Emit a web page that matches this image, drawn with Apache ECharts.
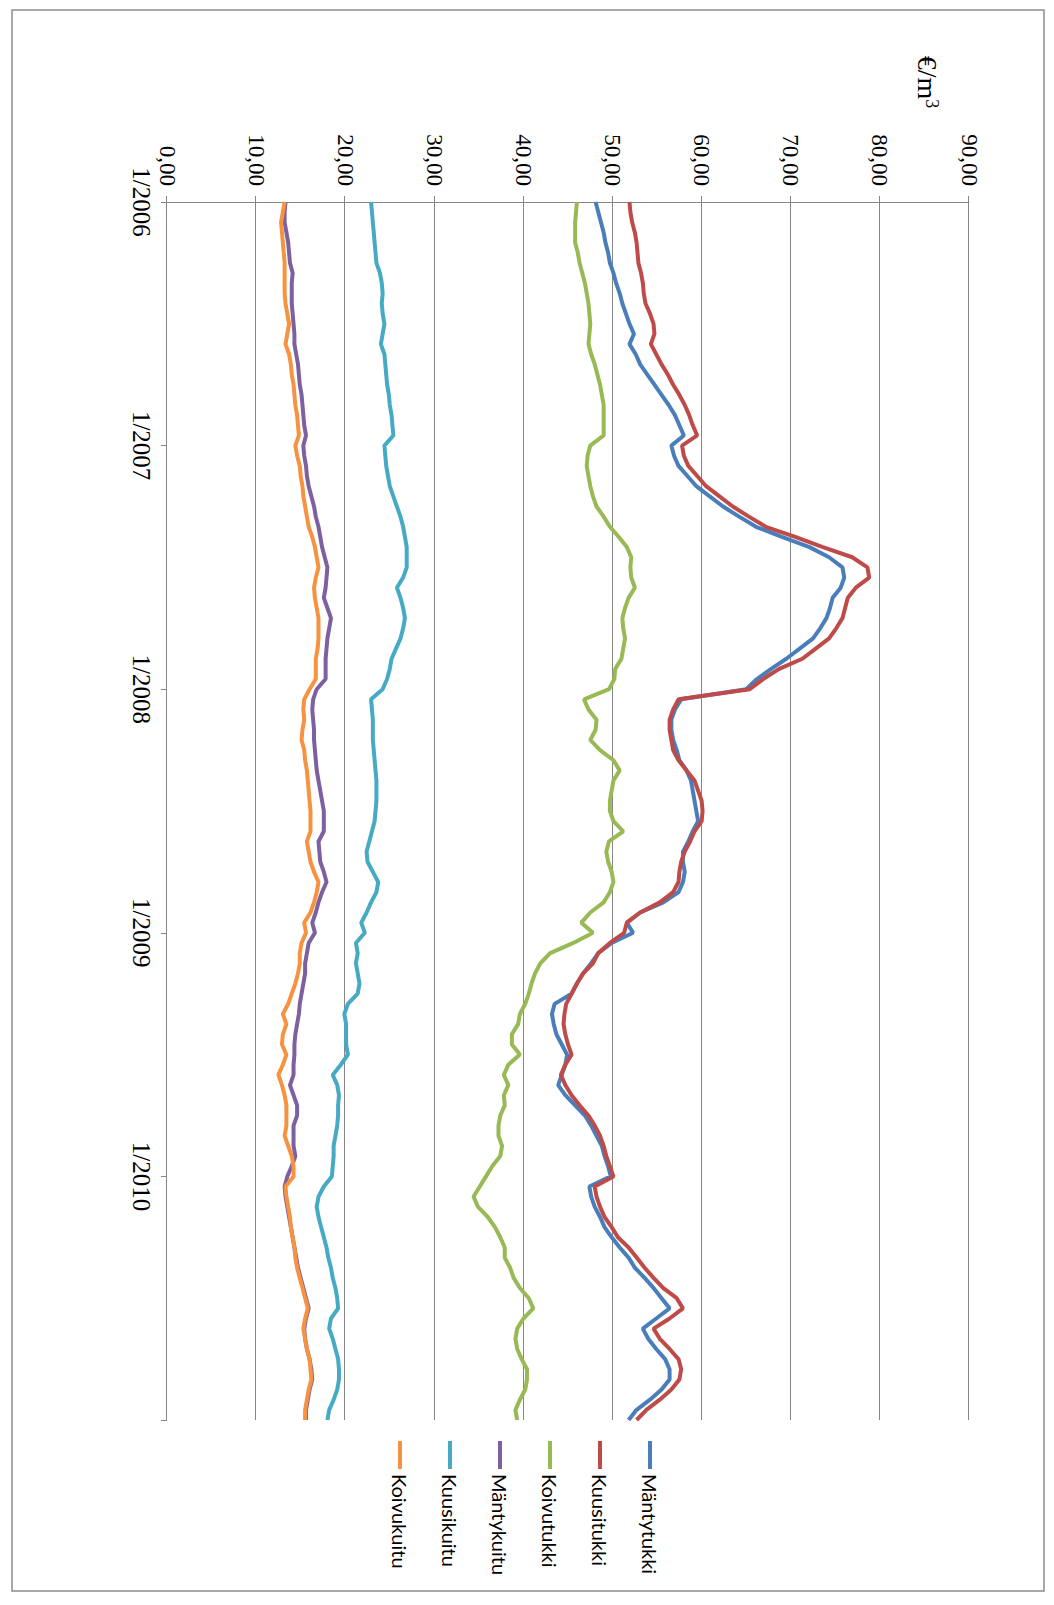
<!DOCTYPE html>
<html><head><meta charset="utf-8">
<script src="https://cdn.jsdelivr.net/npm/echarts/dist/echarts.min.js"></script>
<style>
html,body{margin:0;padding:0;background:#fff;width:1054px;height:1605px;overflow:hidden;}
#chart{position:absolute;left:0;top:0;width:1605px;height:1054px;transform-origin:0 0;transform:translate(1054px,0) rotate(90deg);}
</style></head><body><div id="chart"></div>
<script>
// Semi-monthly sample dates, 1/2006 .. 1/2011
const categories = [];
for (let y = 2006; y <= 2010; y++) {
  for (let m = 1; m <= 12; m++) {
    const mm = (m < 10 ? '0' : '') + m;
    categories.push(y + '-' + mm + '-01', y + '-' + mm + '-15');
  }
}
categories.push('2011-01-01');

const yearTicks = ['1/2006', '1/2007', '1/2008', '1/2009', '1/2010'];
const seriesNames = ['Mäntytukki', 'Kuusitukki', 'Koivutukki', 'Mäntykuitu', 'Kuusikuitu', 'Koivukuitu'];

const mantytukki = [
  48.1,48.4,48.7,49.0,49.2,49.5,49.7,50.1,50.4,50.8,51.1,51.5,51.9,52.4,51.9,52.6,53.1,53.9,54.7,55.5,56.3,57.0,57.5,58.0,
  56.6,56.9,57.4,58.4,59.4,60.9,62.4,64.2,66.1,69.0,72.1,74.3,75.8,76.0,75.6,74.7,74.4,74.0,73.3,72.5,71.0,69.5,67.8,66.2,
  65.0,57.7,57.0,56.6,56.6,56.8,57.2,57.5,58.3,58.8,59.0,59.2,59.4,59.6,59.0,58.5,57.9,57.9,58.1,57.9,57.4,55.7,53.1,51.6,
  52.3,49.9,48.4,47.6,46.7,46.0,45.4,43.5,43.2,43.4,43.7,44.3,44.9,44.7,44.3,43.9,44.7,45.8,46.9,47.6,48.2,48.8,49.1,49.5,
  49.8,47.4,47.6,48.0,48.6,49.1,49.9,50.8,51.8,52.5,53.6,54.6,55.5,56.4,54.9,53.4,54.0,54.9,55.9,56.4,56.4,55.5,54.2,52.7,51.8
];
const kuusitukki = [
  51.9,52.0,52.2,52.5,52.7,52.8,52.9,53.2,53.4,53.5,53.7,54.2,54.6,54.7,54.3,54.9,55.5,56.2,56.8,57.5,58.1,58.6,59.0,59.5,
  57.8,58.0,58.5,59.5,60.5,62.0,63.5,65.3,67.2,70.5,73.6,76.9,78.6,78.8,77.3,76.4,76.1,75.8,75.1,74.3,72.8,71.3,68.7,66.9,
  65.4,57.4,56.8,56.4,56.4,56.6,56.8,57.4,58.3,59.2,59.6,60.0,60.1,60.0,59.2,58.7,58.1,57.7,57.5,57.4,56.8,55.3,53.1,51.6,
  51.3,49.7,48.4,47.8,46.7,46.0,45.4,44.8,44.6,44.5,44.7,45.0,45.4,44.7,44.2,44.7,45.4,46.3,47.3,48.0,48.6,49.0,49.3,49.7,
  50.1,48.0,48.2,48.6,49.1,49.9,50.6,51.8,52.7,53.6,54.6,55.7,57.2,57.9,56.4,54.6,55.3,56.4,57.4,57.7,57.5,56.6,55.3,53.8,52.7
];
const koivutukki = [
  46.0,45.9,45.8,45.8,45.8,46.1,46.3,46.6,46.9,47.1,47.3,47.4,47.5,47.4,47.3,47.6,48.0,48.3,48.6,48.8,49.0,49.0,49.0,49.0,
  47.5,47.2,47.1,47.3,47.5,47.8,48.2,49.0,49.7,50.7,51.6,52.1,52.0,52.1,52.5,51.8,51.4,51.1,51.2,51.4,51.2,51.0,50.3,50.2,
  49.6,46.8,47.3,48.2,48.1,47.5,48.6,50.1,50.8,50.1,49.9,49.7,49.7,50.1,51.2,49.6,49.3,49.5,49.9,50.1,49.7,49.0,47.5,46.5,
  47.8,45.6,43.0,41.9,41.3,40.9,40.6,40.2,39.6,39.4,38.7,38.7,39.6,38.3,37.8,38.3,37.8,37.9,37.4,37.2,37.2,37.6,37.4,36.5,
  35.8,35.1,34.4,34.9,36.0,36.8,37.4,37.9,37.9,38.5,38.9,39.6,40.6,41.1,40.0,39.3,39.1,39.3,39.8,40.4,40.4,40.2,39.6,39.1,39.3
];
const mantykuitu = [
  13.3,13.2,13.2,13.4,13.6,13.7,13.8,14.1,14.0,14.0,14.0,14.1,14.2,14.3,14.3,14.5,14.7,14.8,14.9,15.1,15.2,15.3,15.4,15.6,
  15.3,15.4,15.6,15.7,15.9,16.2,16.5,16.7,17.0,17.2,17.4,17.7,18.0,17.9,17.8,17.6,18.0,18.4,18.2,18.0,17.9,17.8,17.8,17.8,
  16.8,16.4,16.3,16.4,16.5,16.5,16.6,16.7,16.8,17.0,17.2,17.4,17.6,17.6,17.6,17.0,17.1,17.2,17.6,17.9,17.4,17.0,16.7,16.3,
  16.6,15.9,15.7,15.5,15.5,15.3,15.1,14.9,14.8,14.6,14.4,14.3,14.3,14.2,14.2,13.8,14.2,14.6,14.6,14.2,14.2,14.2,14.4,14.0,
  13.5,13.2,13.3,13.5,13.7,13.9,14.1,14.3,14.5,14.7,15.0,15.3,15.6,15.9,15.6,15.4,15.5,15.7,16.0,16.2,16.3,16.0,15.8,15.6,15.6
];
const kuusikuitu = [
  22.9,23.0,23.1,23.2,23.3,23.4,23.5,23.9,24.1,24.2,24.1,24.2,24.4,24.2,24.0,24.4,24.5,24.6,24.7,24.9,25.0,25.2,25.3,25.4,
  24.4,24.5,24.6,24.8,25.0,25.4,25.8,26.2,26.5,26.7,26.9,26.9,26.9,26.5,25.8,26.2,26.5,26.7,26.5,26.2,25.7,25.2,25.0,24.7,
  24.2,22.9,23.0,23.1,23.1,23.1,23.2,23.3,23.4,23.5,23.5,23.5,23.4,23.3,23.0,22.7,22.4,22.5,23.1,23.7,23.5,22.9,22.4,21.8,
  22.2,21.2,21.4,21.2,21.4,21.6,21.4,20.3,19.9,20.1,20.1,20.1,20.3,19.5,18.6,19.1,19.3,19.2,19.2,19.1,18.9,18.7,18.7,18.6,
  18.5,17.6,17.0,16.8,17.0,17.3,17.6,17.9,18.1,18.4,18.6,18.9,19.1,19.2,18.4,18.2,18.6,18.9,19.2,19.3,19.3,19.1,18.7,18.2,18.0
];
const koivukuitu = [
  13.2,13.0,12.8,12.9,13.0,13.1,13.2,13.2,13.2,13.2,13.3,13.5,13.7,13.5,13.3,13.7,13.9,14.0,14.2,14.3,14.4,14.6,14.7,14.8,
  14.4,14.6,14.9,15.0,15.2,15.3,15.5,15.7,15.9,16.3,16.6,16.8,17.0,16.7,16.5,16.6,16.8,17.0,17.0,17.0,16.9,16.7,16.7,16.7,
  16.0,15.4,15.3,15.4,15.2,15.1,15.4,15.5,15.7,15.8,15.9,16.0,16.1,16.1,16.1,15.7,15.9,16.1,16.5,17.0,16.8,16.5,16.1,15.4,
  15.6,15.1,14.9,14.9,14.7,14.4,14.0,13.6,13.0,13.4,13.0,12.9,13.4,13.0,12.5,12.9,13.2,13.4,13.4,13.4,13.2,13.6,14.0,14.2,
  14.2,13.3,13.4,13.6,13.8,13.9,14.1,14.3,14.4,14.6,14.9,15.2,15.5,15.8,15.5,15.3,15.5,15.7,16.0,16.1,16.2,15.9,15.7,15.5,15.5
];

const seriesData = [mantytukki, kuusitukki, koivutukki, mantykuitu, kuusikuitu, koivukuitu];
const colors = ['#4A7EBB', '#BE4B48', '#98B954', '#7D60A0', '#46AAC5', '#F69240'];
const gridColor = '#868686';

const chart = echarts.init(document.getElementById('chart'), null, {renderer: 'svg', width: 1605, height: 1054});
chart.setOption({
  animation: false,
  color: colors,
  grid: {left: 202, right: 185, top: 85, bottom: 167, containLabel: false},
  xAxis: {
    type: 'category',
    data: categories,
    boundaryGap: false,
    axisLine: {show: true, lineStyle: {color: gridColor, width: 1}},
    axisTick: {show: true, length: 6, interval: function (i) { return i % 24 === 0; }, lineStyle: {color: gridColor}},
    axisLabel: {
      interval: function (i) { return i % 24 === 0 && i < 120; },
      formatter: function (v, i) { return yearTicks[Math.round(i / 24)]; },
      fontFamily: 'Liberation Serif', fontSize: 25, color: '#000', margin: 13
    },
    splitLine: {show: false}
  },
  yAxis: {
    type: 'value', min: 0, max: 90, interval: 10,
    axisLine: {show: true, lineStyle: {color: gridColor, width: 1}},
    axisTick: {show: true, length: 6, lineStyle: {color: gridColor}},
    axisLabel: {
      formatter: function (v) { return v.toFixed(2).replace('.', ','); },
      fontFamily: 'Liberation Serif', fontSize: 23, color: '#000', margin: 16
    },
    splitLine: {show: true, lineStyle: {color: gridColor, width: 1}}
  },
  legend: {
    orient: 'vertical', left: 1436, top: 387, itemGap: 26,
    icon: 'rect', itemWidth: 28, itemHeight: 4,
    textStyle: {fontFamily: 'Lato', fontSize: 20, color: '#000', lineHeight: 24},
    data: seriesNames
  },
  graphic: [
    {type: 'rect', shape: {x: 10, y: 10, width: 1581, height: 1032},
     style: {fill: 'none', stroke: '#8c8c8c', lineWidth: 1.5}, silent: true},
    {type: 'text', x: 82, y: 127,
     style: {text: '{a|€/m}{b|3}', align: 'center', verticalAlign: 'middle', fill: '#000',
       rich: {a: {fontFamily: 'Liberation Serif', fontSize: 28, fill: '#000'},
              b: {fontFamily: 'Liberation Serif', fontSize: 18, verticalAlign: 'top', fill: '#000'}}}}
  ],
  series: seriesNames.map(function (name, k) {
    return {
      name: name, type: 'line', data: seriesData[k],
      showSymbol: false, symbol: 'none',
      lineStyle: {width: 4, color: colors[k]},
      itemStyle: {color: colors[k]},
      emphasis: {disabled: true}
    };
  })
});
</script></body></html>
